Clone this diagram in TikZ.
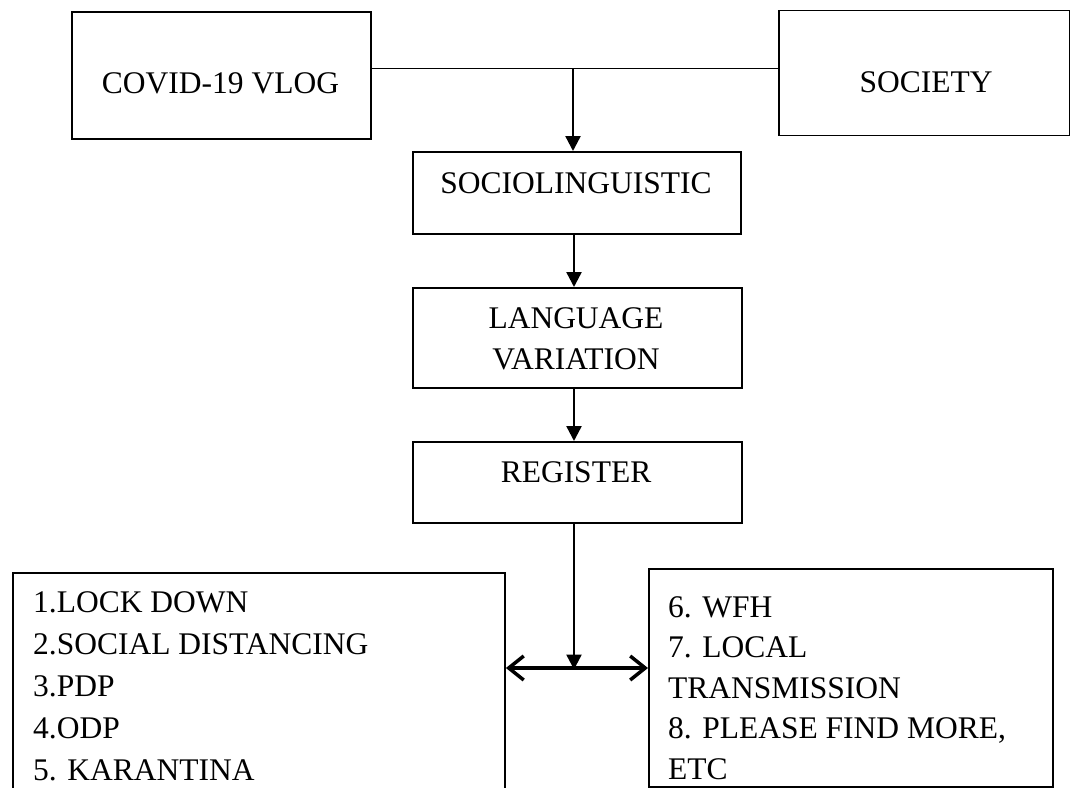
\documentclass[tikz,border=0pt]{standalone}
\usepackage{fontspec}
\setmainfont{Liberation Serif}
\usetikzlibrary{arrows.meta}
\begin{document}
\begin{tikzpicture}[x=1pt,y=-1pt,
  box/.style={draw, line width=1.9pt, inner sep=0pt, anchor=north west},
  txt/.style={font=\fontsize{31.5}{41.5}\selectfont, inner sep=0pt, anchor=base},
  ltxt/.style={txt, anchor=base west},
  conn/.style={line width=1.9pt},
  flow/.style={line width=2.4pt, -{Triangle[length=15pt,width=15pt]}},
  dbl/.style={line width=3.5pt, {Straight Barb[length=15pt,width=24pt]}-{Straight Barb[length=15pt,width=24pt]}}
]
\useasboundingbox (0,0) rectangle (1070,787);
\clip (0,0) rectangle (1070,787);
\fill[white] (0,0) rectangle (1070,787);

% boxes
\node[box, minimum width=299pt, minimum height=127pt] (covid) at (71,11) {};
\node[box, minimum width=291pt, minimum height=125pt] (society) at (778,9.5) {};
\node[box, minimum width=328pt, minimum height=82pt] (socio) at (412,151) {};
\node[box, minimum width=329pt, minimum height=100pt] (lang) at (412,287) {};
\node[box, minimum width=329pt, minimum height=81pt] (reg) at (412,441) {};
\node[box, minimum width=492pt, minimum height=230pt] (left) at (12,572) {};
\node[box, minimum width=404pt, minimum height=218pt] (right) at (648,568) {};

% texts
\node[txt] (tcovid) at (220.5,93.5) {COVID-19 VLOG};
\node[txt] (tsociety) at (926,92.5) {SOCIETY};
\node[txt] (tsocio) at (576,193.5) {SOCIOLINGUISTIC};
\node[txt] (tlang1) at (576,328.5) {LANGUAGE};
\node[txt] (tlang2) at (576,369.5) {VARIATION};
\node[txt] (treg) at (576,482.5) {REGISTER};

\node[ltxt] (l1) at (33,612) {1.LOCK DOWN};
\node[ltxt] (l2) at (33,654) {2.SOCIAL DISTANCING};
\node[ltxt] (l3) at (33,696) {3.PDP};
\node[ltxt] (l4) at (33,738) {4.ODP};
\node[ltxt] (l5) at (33,780) {5. KARANTINA};

\node[ltxt] (r1) at (668,617) {6. WFH};
\node[ltxt] (r2) at (668,657.5) {7. LOCAL};
\node[ltxt] (r3) at (668,698) {TRANSMISSION};
\node[ltxt] (r4) at (668,738.5) {8. PLEASE FIND MORE,};
\node[ltxt] (r5) at (668,779) {ETC};

% connectors
\coordinate (j) at (573,68.5);
\coordinate (ax) at (574,0);
\coordinate (k) at (574,668);
\draw[conn] (covid.east |- j) -- (society.west |- j);
\draw[flow] (j) -- (j |- socio.north);
\draw[flow] (socio.south -| ax) -- (lang.north -| ax);
\draw[flow] (lang.south -| ax) -- (reg.north -| ax);
\draw[flow] (reg.south -| k) -- ([yshift=-1.5pt]k);
\draw[dbl] (left.east |- k) -- (right.west |- k);
\end{tikzpicture}
\end{document}
